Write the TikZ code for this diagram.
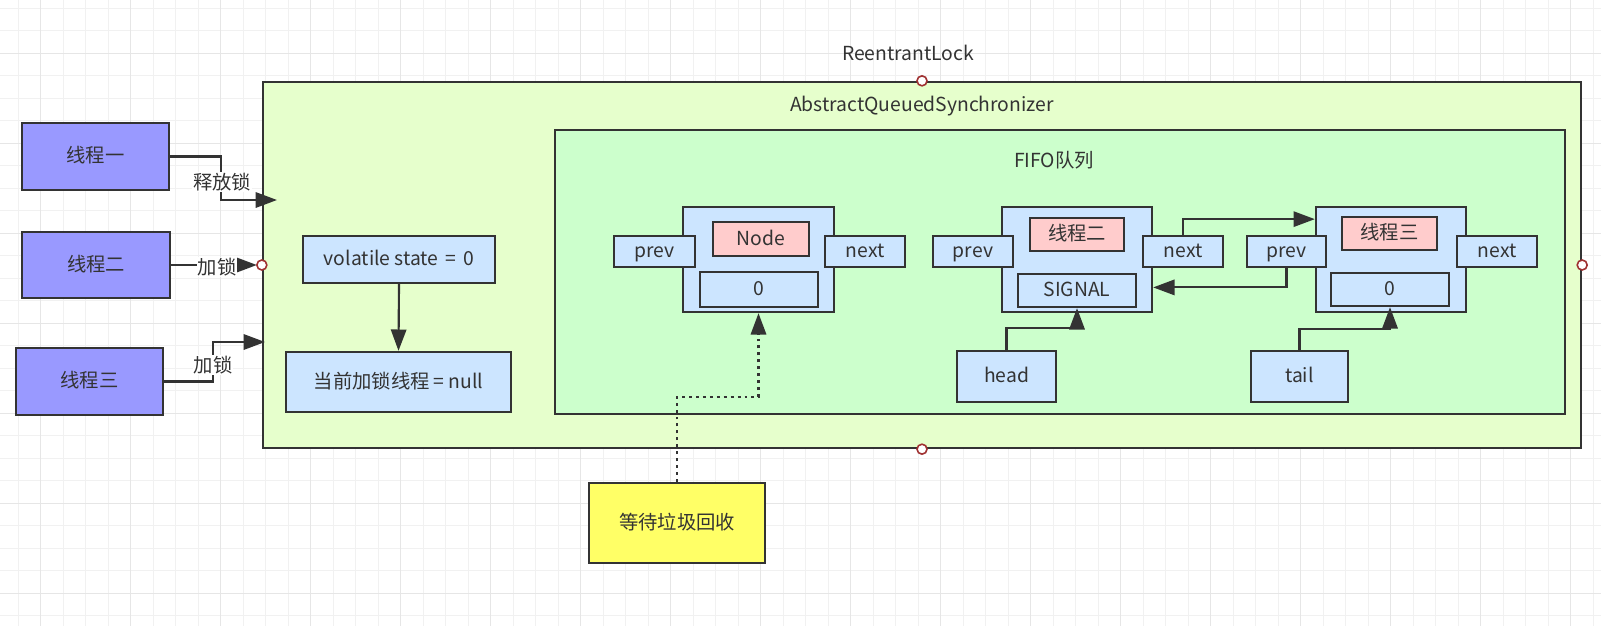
\documentclass[tikz,border=0pt]{standalone}
\usepackage{fontspec}
\setmainfont{Noto Sans CJK SC}
\usetikzlibrary{arrows.meta,calc}
\definecolor{ink}{HTML}{333333}
\definecolor{thrd}{HTML}{9999FF}
\definecolor{outerc}{HTML}{E6FFCC}
\definecolor{fifoc}{HTML}{CCFFCC}
\definecolor{bluec}{HTML}{CCE5FF}
\definecolor{pinkc}{HTML}{FFCCCC}
\definecolor{yelc}{HTML}{FFFF66}
\definecolor{gridl}{HTML}{F1F1F1}
\definecolor{gridd}{HTML}{E6E6E6}
\definecolor{markc}{RGB}{160,50,50}
\newcommand\rectnode[7]{%
  \pgfmathsetmacro\rnW{(#5-#3)*0.75}%
  \pgfmathsetmacro\rnH{(#6-#4)*0.75}%
  \node[#1, minimum width=\rnW pt, minimum height=\rnH pt] (#2) at ({(#3+#5)/2},{(#4+#6)/2}) {#7};}
\tikzset{
  bx/.style={draw=ink, line width=1.75pt, inner sep=1pt, text=ink, text height=0.95em, text depth=0pt},
  thbox/.style={bx, fill=thrd},
  outbox/.style={bx, fill=outerc},
  fifobox/.style={bx, fill=fifoc},
  bluebox/.style={bx, fill=bluec},
  pinkbox/.style={bx, fill=pinkc},
  yelbox/.style={bx, fill=yelc},
  arr/.style={draw=ink, line width=1.6pt, -{Triangle[length=16pt,width=11.5pt]}},
  dotarr/.style={arr, dash pattern=on 2.2pt off 3pt},
  lbl/.style={fill=white, inner sep=0.5pt, text=ink},
  txt/.style={inner sep=0pt, text=ink},
  marker/.style={circle, draw=markc, fill=white, line width=1.2pt, minimum size=7.5pt, inner sep=0pt},
}
\begin{document}
\begin{tikzpicture}[x=0.75pt,y=-0.75pt, font=\fontsize{14.5pt}{17pt}\selectfont]
\useasboundingbox (0,0) rectangle (1601,626);
\fill[white] (0,0) rectangle (1601,626);
% grid
\foreach \k in {0,...,70} {
  \pgfmathsetmacro\gx{18.3+22.5*\k}
  \draw[gridl, line width=0.75pt] (\gx,0) -- (\gx,626);
}
\foreach \k in {0,...,27} {
  \pgfmathsetmacro\gy{8.3+22.5*\k}
  \draw[gridl, line width=0.75pt] (0,\gy) -- (1601,\gy);
}
\foreach \k in {0,...,17} {
  \pgfmathsetmacro\gx{40.8+90*\k}
  \draw[gridd, line width=0.75pt] (\gx,0) -- (\gx,626);
}
\foreach \k in {0,...,6} {
  \pgfmathsetmacro\gy{53.3+90*\k}
  \draw[gridd, line width=0.75pt] (0,\gy) -- (1601,\gy);
}

% outer boxes
\rectnode{outbox}{rl}{263}{82}{1581}{448}{}
\rectnode{fifobox}{fifo}{555}{130}{1565}{414}{}
\node[txt] (rltxt) at (908,53) {ReentrantLock};
\node[txt] (aqstxt) at (922,106) {AbstractQueuedSynchronizer};
\node[txt] (fifotxt) at (1054,160) {FIFO队列};

% threads
\rectnode{thbox}{t1}{22}{123}{169}{190}{线程一}
\rectnode{thbox}{t2}{22}{232}{170}{298}{线程二}
\rectnode{thbox}{t3}{16}{348}{163}{415}{线程三}

% state boxes
\rectnode{bluebox}{vol}{303}{236}{495}{283}{volatile state \hspace{2pt}=\hspace{2pt} 0}
\rectnode{bluebox}{cur}{286}{352}{511}{412}{当前加锁线程\hspace{3pt}=\hspace{3pt}null}

% node 1
\rectnode{bluebox}{n1o}{683}{207}{834}{312}{}
\rectnode{pinkbox}{n1t}{713}{222}{809}{256}{Node}
\rectnode{bluebox}{n1v}{700}{272}{818}{307}{0}
\rectnode{bluebox}{n1prev}{614}{236}{695}{267}{prev}
\rectnode{bluebox}{n1next}{825}{236}{905}{267}{next}

% node 2
\rectnode{bluebox}{n2o}{1002}{207}{1152}{312}{}
\rectnode{pinkbox}{n2t}{1030}{218}{1124}{251}{线程二}
\rectnode{bluebox}{n2v}{1018}{274}{1136}{307}{SIGNAL}
\rectnode{bluebox}{n2prev}{933}{236}{1013}{267}{prev}
\rectnode{bluebox}{n2next}{1143}{236}{1223}{267}{next}

% node 3
\rectnode{bluebox}{n3o}{1316}{207}{1466}{312}{}
\rectnode{pinkbox}{n3t}{1342}{217}{1437}{250}{线程三}
\rectnode{bluebox}{n3v}{1331}{273}{1449}{306}{0}
\rectnode{bluebox}{n3prev}{1247}{236}{1326}{267}{prev}
\rectnode{bluebox}{n3next}{1457}{236}{1537}{267}{next}

% head / tail / gc
\rectnode{bluebox}{head}{957}{351}{1056}{402}{head}
\rectnode{bluebox}{tail}{1251}{351}{1348}{402}{tail}
\rectnode{yelbox}{gc}{589}{483}{765}{563}{等待垃圾回收}

% connectors
\coordinate (in1) at (277,200);
\coordinate (in3) at (265,342);
\draw[arr] (t1.east) -- ++(51,0) |- (in1);
\draw[arr] (t2.east) -- ($(rl.west)+(-5,0)$);
\draw[arr] (t3.east) -- ++(49,0) |- (in3);
\draw[arr] (vol.south) -- (cur.north);
\draw[arr] (n2next.north) |- ($(n3o.north west)!0.124!(n3o.south west)$);
\draw[arr] (n3prev.south) |- ($(n2o.north east)!0.76!(n2o.south east)$);
\draw[arr] (head.north) -- ++(0,-22) -| (n2v.south);
\draw[arr] (tail.north) -- ++(0,-21) -| (n3v.south);
\draw[dotarr] (gc.north) -- ++(0,-85) -| (n1o.south);

% connector labels
\node[lbl] (l1) at (222,182) {释放锁};
\node[lbl] (l2) at (217,267) {加锁};
\node[lbl] (l3) at (213,365) {加锁};

% markers
\node[marker] (mT) at (rl.north) {};
\node[marker] (mB) at (rl.south) {};
\node[marker] (mL) at (rl.west) {};
\node[marker] (mR) at (rl.east) {};
\end{tikzpicture}
\end{document}
